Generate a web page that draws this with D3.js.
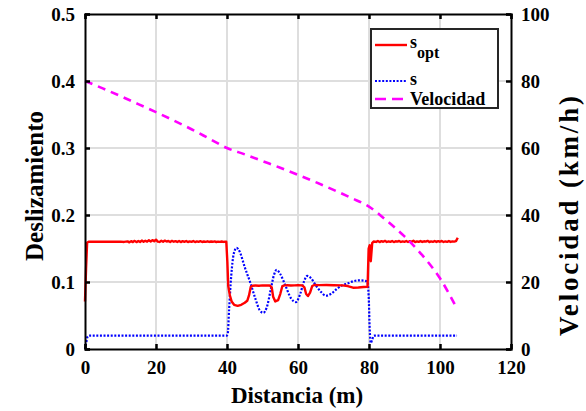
<!DOCTYPE html>
<html>
<head>
<meta charset="utf-8">
<script src="https://cdn.jsdelivr.net/npm/d3@7"></script>
<style>
  html, body { margin: 0; padding: 0; background: #fff; }
  svg { display: block; }
</style>
</head>
<body>
<svg id="chart" width="586" height="411"></svg>
<script>
// Tick values and labels
const xTicks = [0, 20, 40, 60, 80, 100, 120];
const xTickLabels = ["0", "20", "40", "60", "80", "100", "120"];
const yTicks = [0, 0.1, 0.2, 0.3, 0.4, 0.5];
const yTickLabels = ["0", "0.1", "0.2", "0.3", "0.4", "0.5"];
const vTicks = [0, 20, 40, 60, 80, 100];
const vTickLabels = ["0", "20", "40", "60", "80", "100"];

// Optimal slip s_opt vs distance (m)
const soptX = [0, 0.3, 0.6, 1, 2, 3, 4, 5, 6, 7, 8, 9, 10, 11, 12, 12.5, 13, 13.5, 14, 14.5, 15, 15.5, 16, 16.5, 17, 17.5, 18, 18.5, 19, 19.5, 20, 20.5, 21, 21.5, 22, 22.5, 23, 23.5, 24, 24.5, 25, 25.5, 26, 26.5, 27, 27.5, 28, 28.5, 29, 29.5, 30, 30.5, 31, 31.5, 32, 32.5, 33, 33.5, 34, 34.5, 35, 35.5, 36, 36.5, 37, 37.5, 38, 38.5, 39, 39.5, 39.8,
  40.1, 40.35, 40.8, 41.3, 42, 43, 44, 45, 45.7, 46.2, 46.7, 47.2, 48, 49, 50, 51, 52, 52.6, 53.0, 53.6, 54.4, 55.0, 55.6, 56.2, 57, 58, 59, 60, 61.2, 61.8, 62.3, 62.8, 63.4, 64.0, 64.6, 66, 68, 70, 72.5, 74, 75.5, 77, 78.5, 79.6,
  79.9, 80.2, 80.5, 80.9, 81.3, 82, 82.5, 83, 83.5, 84, 84.5, 85, 85.5, 86, 86.5, 87, 87.5, 88, 88.5, 89, 89.5, 90, 90.5, 91, 91.5, 92, 92.5, 93, 93.5, 94, 94.5, 95, 95.5, 96, 96.5, 97, 97.5, 98, 98.5, 99, 99.5, 100, 100.5, 101, 101.5, 102, 102.5, 103, 103.5, 104, 104.5, 105];
const soptY = [0.071, 0.12, 0.159, 0.160, 0.1603, 0.160, 0.1602, 0.160, 0.1602, 0.1600, 0.1601, 0.160, 0.1602, 0.1598, 0.1606, 0.1592, 0.161, 0.1596, 0.1614, 0.1595, 0.1612, 0.1598, 0.1618, 0.1600, 0.1615, 0.1602, 0.1622, 0.1605, 0.1625, 0.1608, 0.1632, 0.1603, 0.1598, 0.1615, 0.1600, 0.1618, 0.1605, 0.1612, 0.1597, 0.1614, 0.1601, 0.1610, 0.1598, 0.1613, 0.1596, 0.1609, 0.1600, 0.1612, 0.1597, 0.1606, 0.1599, 0.1611, 0.1596, 0.1607, 0.1600, 0.1609, 0.1597, 0.1605, 0.1599, 0.1608, 0.1598, 0.1604, 0.1600, 0.1606, 0.1597, 0.1603, 0.1599, 0.1605, 0.1598, 0.1602, 0.1600,
  0.130, 0.094, 0.080, 0.071, 0.066, 0.0645, 0.066, 0.069, 0.072, 0.080, 0.093, 0.0945, 0.0948, 0.0945, 0.0950, 0.0947, 0.0950, 0.092, 0.078, 0.071, 0.073, 0.082, 0.094, 0.0950, 0.0952, 0.0948, 0.0950, 0.0952, 0.0950, 0.092, 0.082, 0.079, 0.084, 0.094, 0.0955, 0.0953, 0.0955, 0.0952, 0.0950, 0.0940, 0.0915, 0.0918, 0.0925, 0.0930,
  0.150, 0.155, 0.131, 0.158, 0.1605, 0.1598, 0.1612, 0.1596, 0.1609, 0.1601, 0.1614, 0.1597, 0.1607, 0.1600, 0.1611, 0.1596, 0.1608, 0.1602, 0.1613, 0.1598, 0.1606, 0.1600, 0.1612, 0.1597, 0.1609, 0.1601, 0.1615, 0.1596, 0.1607, 0.1599, 0.1611, 0.1598, 0.1608, 0.1603, 0.1614, 0.1597, 0.1606, 0.1600, 0.1612, 0.1598, 0.1609, 0.1601, 0.1613, 0.1597, 0.1607, 0.1600, 0.1611, 0.1598, 0.1606, 0.1602, 0.1610, 0.166];

// Actual slip s vs distance (m)
const sX = [0, 0.3, 0.7, 1.2, 10, 20, 30, 39.9, 40.2, 40.6, 41.2, 41.9, 42.7, 43.6, 45, 46.5, 48, 49.2, 50.2, 51.2, 52.3, 53.2, 54, 55, 56.5, 58, 59.4, 60.6, 61.7, 62.6, 63.6, 65, 66.5, 67.9, 69.5, 71, 72.5, 74, 75.5, 77, 78.5, 79.5, 79.9, 80.2, 80.5, 80.9, 81.4, 90, 100, 104.8];
const sY = [0.000, 0.008, 0.018, 0.020, 0.020, 0.020, 0.020, 0.020, 0.022, 0.060, 0.110, 0.142, 0.151, 0.145, 0.122, 0.100, 0.075, 0.058, 0.054, 0.062, 0.088, 0.110, 0.118, 0.112, 0.094, 0.076, 0.070, 0.082, 0.101, 0.109, 0.106, 0.095, 0.085, 0.0795, 0.083, 0.090, 0.095, 0.098, 0.101, 0.1025, 0.102, 0.101, 0.080, 0.030, 0.009, 0.014, 0.020, 0.020, 0.020, 0.020];

// Vehicle speed (km/h) vs distance (m)
const velX = [0, 5, 10, 15, 20, 25, 30, 35, 40, 45, 50, 55, 60, 65, 70, 75, 80, 85, 90, 95, 100, 104.7];
const velY = [80, 77.8, 75.5, 73.1, 70.7, 68.2, 65.6, 62.8, 60.0, 58.1, 56.1, 54.1, 52.0, 49.8, 47.5, 45.1, 42.5, 38.3, 33.6, 28.0, 21.1, 12.2];

const legendLabels = ["s", "s", "Velocidad"];

const FONT = "font-family: 'Liberation Serif', Tinos, 'Times New Roman', 'DejaVu Serif', serif; font-weight: 700;";

const svg = d3.select("#chart");
const plot = { left: 85, right: 511, top: 14, bottom: 349 };

const x = d3.scaleLinear().domain([0, 120]).range([plot.left, plot.right]);
const y = d3.scaleLinear().domain([0, 0.5]).range([plot.bottom, plot.top]);
const yv = d3.scaleLinear().domain([0, 100]).range([plot.bottom, plot.top]);

// Grid
const grid = svg.append("g").attr("stroke", "#dedede").attr("stroke-width", 2);
xTicks.slice(1, -1).forEach(t => grid.append("line")
  .attr("x1", x(t)).attr("x2", x(t)).attr("y1", plot.top).attr("y2", plot.bottom));
yTicks.slice(1, -1).forEach(t => grid.append("line")
  .attr("x1", plot.left).attr("x2", plot.right).attr("y1", y(t)).attr("y2", y(t)));

// Data lines
const lineSopt = d3.line().x(d => x(d[0])).y(d => y(d[1]));
const lineS = d3.line().x(d => x(d[0])).y(d => y(d[1])).curve(d3.curveMonotoneX);
const lineV = d3.line().x(d => x(d[0])).y(d => yv(d[1])).curve(d3.curveMonotoneX);

svg.append("path").datum(d3.zip(sX, sY)).attr("d", lineS)
  .attr("fill", "none").attr("stroke", "#0000ff").attr("stroke-width", 2.2)
  .attr("stroke-dasharray", "2,1.6");
svg.append("path").datum(d3.zip(soptX, soptY)).attr("d", lineSopt)
  .attr("fill", "none").attr("stroke", "#ff0000").attr("stroke-width", 2.4)
  .attr("stroke-linejoin", "round");
svg.append("path").datum(d3.zip(velX, velY)).attr("d", lineV)
  .attr("fill", "none").attr("stroke", "#ff00ff").attr("stroke-width", 2.6)
  .attr("stroke-dasharray", "8,6");

// Axes (inward ticks, box)
const tickLen = 5;
const axBottom = d3.axisBottom(x).tickValues(xTicks).tickSize(-tickLen).tickFormat((d, i) => xTickLabels[i]).tickPadding(12);
const axTop = d3.axisTop(x).tickValues(xTicks).tickSize(-tickLen).tickFormat("");
const axLeft = d3.axisLeft(y).tickValues(yTicks).tickSize(-tickLen).tickFormat((d, i) => yTickLabels[i]).tickPadding(10);
const axRight = d3.axisRight(yv).tickValues(vTicks).tickSize(-tickLen).tickFormat((d, i) => vTickLabels[i]).tickPadding(10);

function styleAxis(g) {
  g.attr("font-family", null).attr("font-size", null);
  g.select(".domain").attr("stroke", "#000").attr("stroke-width", 2);
  g.selectAll(".tick line").attr("stroke", "#000").attr("stroke-width", 2.5);
  g.selectAll(".tick text").attr("style", FONT + " font-size: 19px;").attr("fill", "#000");
}
svg.append("g").attr("transform", `translate(0,${plot.bottom})`).call(axBottom).call(styleAxis);
svg.append("g").attr("transform", `translate(0,${plot.top})`).call(axTop).call(styleAxis);
svg.append("g").attr("transform", `translate(${plot.left},0)`).call(axLeft).call(styleAxis);
svg.append("g").attr("transform", `translate(${plot.right},0)`).call(axRight).call(styleAxis);

// Axis titles
svg.append("text").attr("x", 297).attr("y", 403).attr("text-anchor", "middle")
  .attr("style", FONT + " font-size: 23px;").text("Distancia (m)");
svg.append("text").attr("transform", "translate(43,186) rotate(-90)").attr("text-anchor", "middle")
  .attr("style", FONT + " font-size: 25px;").text("Deslizamiento");
svg.append("text").attr("transform", "translate(578,216) rotate(-90)").attr("text-anchor", "middle")
  .attr("style", FONT + " font-size: 27px;").attr("textLength", 240).attr("lengthAdjust", "spacing").text("Velocidad (km/h)");

// Legend
const lg = svg.append("g");
lg.append("rect").attr("x", 371).attr("y", 29).attr("width", 127).attr("height", 79)
  .attr("fill", "#fff").attr("stroke", "#262626").attr("stroke-width", 2);
const legendRows = [
  { yLine: 45, yText: 48, color: "#ff0000", dash: null, w: 2.4 },
  { yLine: 81, yText: 85, color: "#0000ff", dash: "2,1.6", w: 2.2 },
  { yLine: 99, yText: 105, color: "#ff00ff", dash: "11,6", w: 2.6 }
];
legendRows.forEach((r, i) => {
  lg.append("line").attr("x1", 375).attr("x2", 407).attr("y1", r.yLine).attr("y2", r.yLine)
    .attr("stroke", r.color).attr("stroke-width", r.w).attr("stroke-dasharray", r.dash);
  const t = lg.append("text").attr("x", 410).attr("y", r.yText)
    .attr("style", FONT + " font-size: 18px;").text(legendLabels[i]);
  if (i === 0) {
    t.append("tspan").attr("dy", 10).attr("style", "font-size: 16px;").text("opt");
  }
});
</script>
</body>
</html>
